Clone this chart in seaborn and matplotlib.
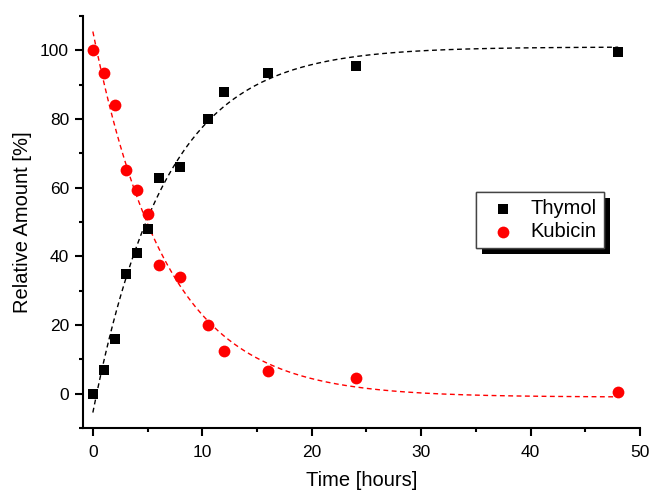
import numpy as np
import pandas as pd
import matplotlib
matplotlib.use("Agg")
import matplotlib.pyplot as plt
import matplotlib.patheffects as pe
import seaborn as sns

# Measured data
time_thymol = [0, 1, 2, 3, 4, 5, 6, 8, 10.5, 12, 16, 24, 48]
thymol = [0, 6.8, 15.9, 35.0, 40.9, 47.9, 62.8, 66.0, 80.0, 88.0, 93.5, 95.4, 99.6]
time_kubicin = [0, 1, 2, 3, 4, 5, 6, 8, 10.5, 12, 16, 24, 48]
kubicin = [100, 93.4, 84.1, 65.1, 59.4, 52.4, 37.4, 34.0, 20.0, 12.3, 6.5, 4.6, 0.5]

# Exponential fit parameters
thymol_fit = {"plateau": 101.0, "span": 106.5, "tau": 6.6}
kubicin_fit = {"plateau": -1.0, "span": 106.5, "tau": 6.7}
fit_range = (0, 48)

sns.set_style("ticks")
plt.rcParams["font.family"] = ["Liberation Sans", "DejaVu Sans"]
plt.rcParams["text.color"] = "black"
plt.rcParams["axes.labelcolor"] = "black"

fig = plt.figure(figsize=(6.5, 4.91), dpi=100)
ax = fig.add_axes([0.1277, 0.1283, 0.857, 0.839])

tt = np.linspace(fit_range[0], fit_range[1], 400)
fit_df = pd.DataFrame({
    "t": tt,
    "thymol": thymol_fit["plateau"] - thymol_fit["span"] * np.exp(-tt / thymol_fit["tau"]),
    "kubicin": kubicin_fit["plateau"] + kubicin_fit["span"] * np.exp(-tt / kubicin_fit["tau"]),
})
sns.lineplot(data=fit_df, x="t", y="thymol", ax=ax, color="black", lw=1,
             linestyle=(0, (3.5, 2.5)), zorder=2)
sns.lineplot(data=fit_df, x="t", y="kubicin", ax=ax, color="red", lw=1,
             linestyle=(0, (3.5, 2.5)), zorder=2)

df_t = pd.DataFrame({"t": time_thymol, "v": thymol})
df_k = pd.DataFrame({"t": time_kubicin, "v": kubicin})
sns.scatterplot(data=df_t, x="t", y="v", ax=ax, marker="s", s=50, color="black",
                edgecolor="black", linewidth=0, label="Thymol", zorder=3)
sns.scatterplot(data=df_k, x="t", y="v", ax=ax, marker="o", s=72, color="red",
                edgecolor="red", linewidth=0, label="Kubicin", zorder=3)

ax.set_xlim(-0.9, 50)
ax.set_ylim(-10, 110)
ax.set_xticks([0, 10, 20, 30, 40, 50])
ax.set_xticks([5, 15, 25, 35, 45], minor=True)
ax.set_yticks([0, 20, 40, 60, 80, 100])
ax.set_yticks([-10, 10, 30, 50, 70, 90, 110], minor=True)

for s in ["top", "right"]:
    ax.spines[s].set_visible(False)
for s in ["left", "bottom"]:
    ax.spines[s].set_linewidth(1.5)
    ax.spines[s].set_color("black")
ax.tick_params(which="major", direction="out", length=6, width=1.5, labelsize=12.5,
               colors="black", labelcolor="black", pad=4)
ax.tick_params(axis="x", which="major", pad=6)
ax.tick_params(which="minor", direction="out", length=3, width=1.5, colors="black")

ax.set_xlabel("Time [hours]", fontsize=14.5, labelpad=8, color="black")
ax.set_ylabel("Relative Amount [%]", fontsize=14.5, labelpad=6, color="black")

leg = ax.legend(loc="upper left", bbox_to_anchor=(0.706, 0.573), borderaxespad=0,
                frameon=True, fancybox=False, fontsize=14.5, handletextpad=0.35,
                borderpad=0.35, labelspacing=0.2, handlelength=2.0, markerscale=1.0)
for t in leg.get_texts():
    t.set_color("black")
frame = leg.get_frame()
frame.set_edgecolor("#444444")
frame.set_linewidth(1)
frame.set_alpha(1)
frame.set_path_effects([pe.withSimplePatchShadow(offset=(4.3, -4.3),
                                                  shadow_rgbFace="black", alpha=1),
                        pe.Normal()])

fig.savefig("out.png", dpi=100)
